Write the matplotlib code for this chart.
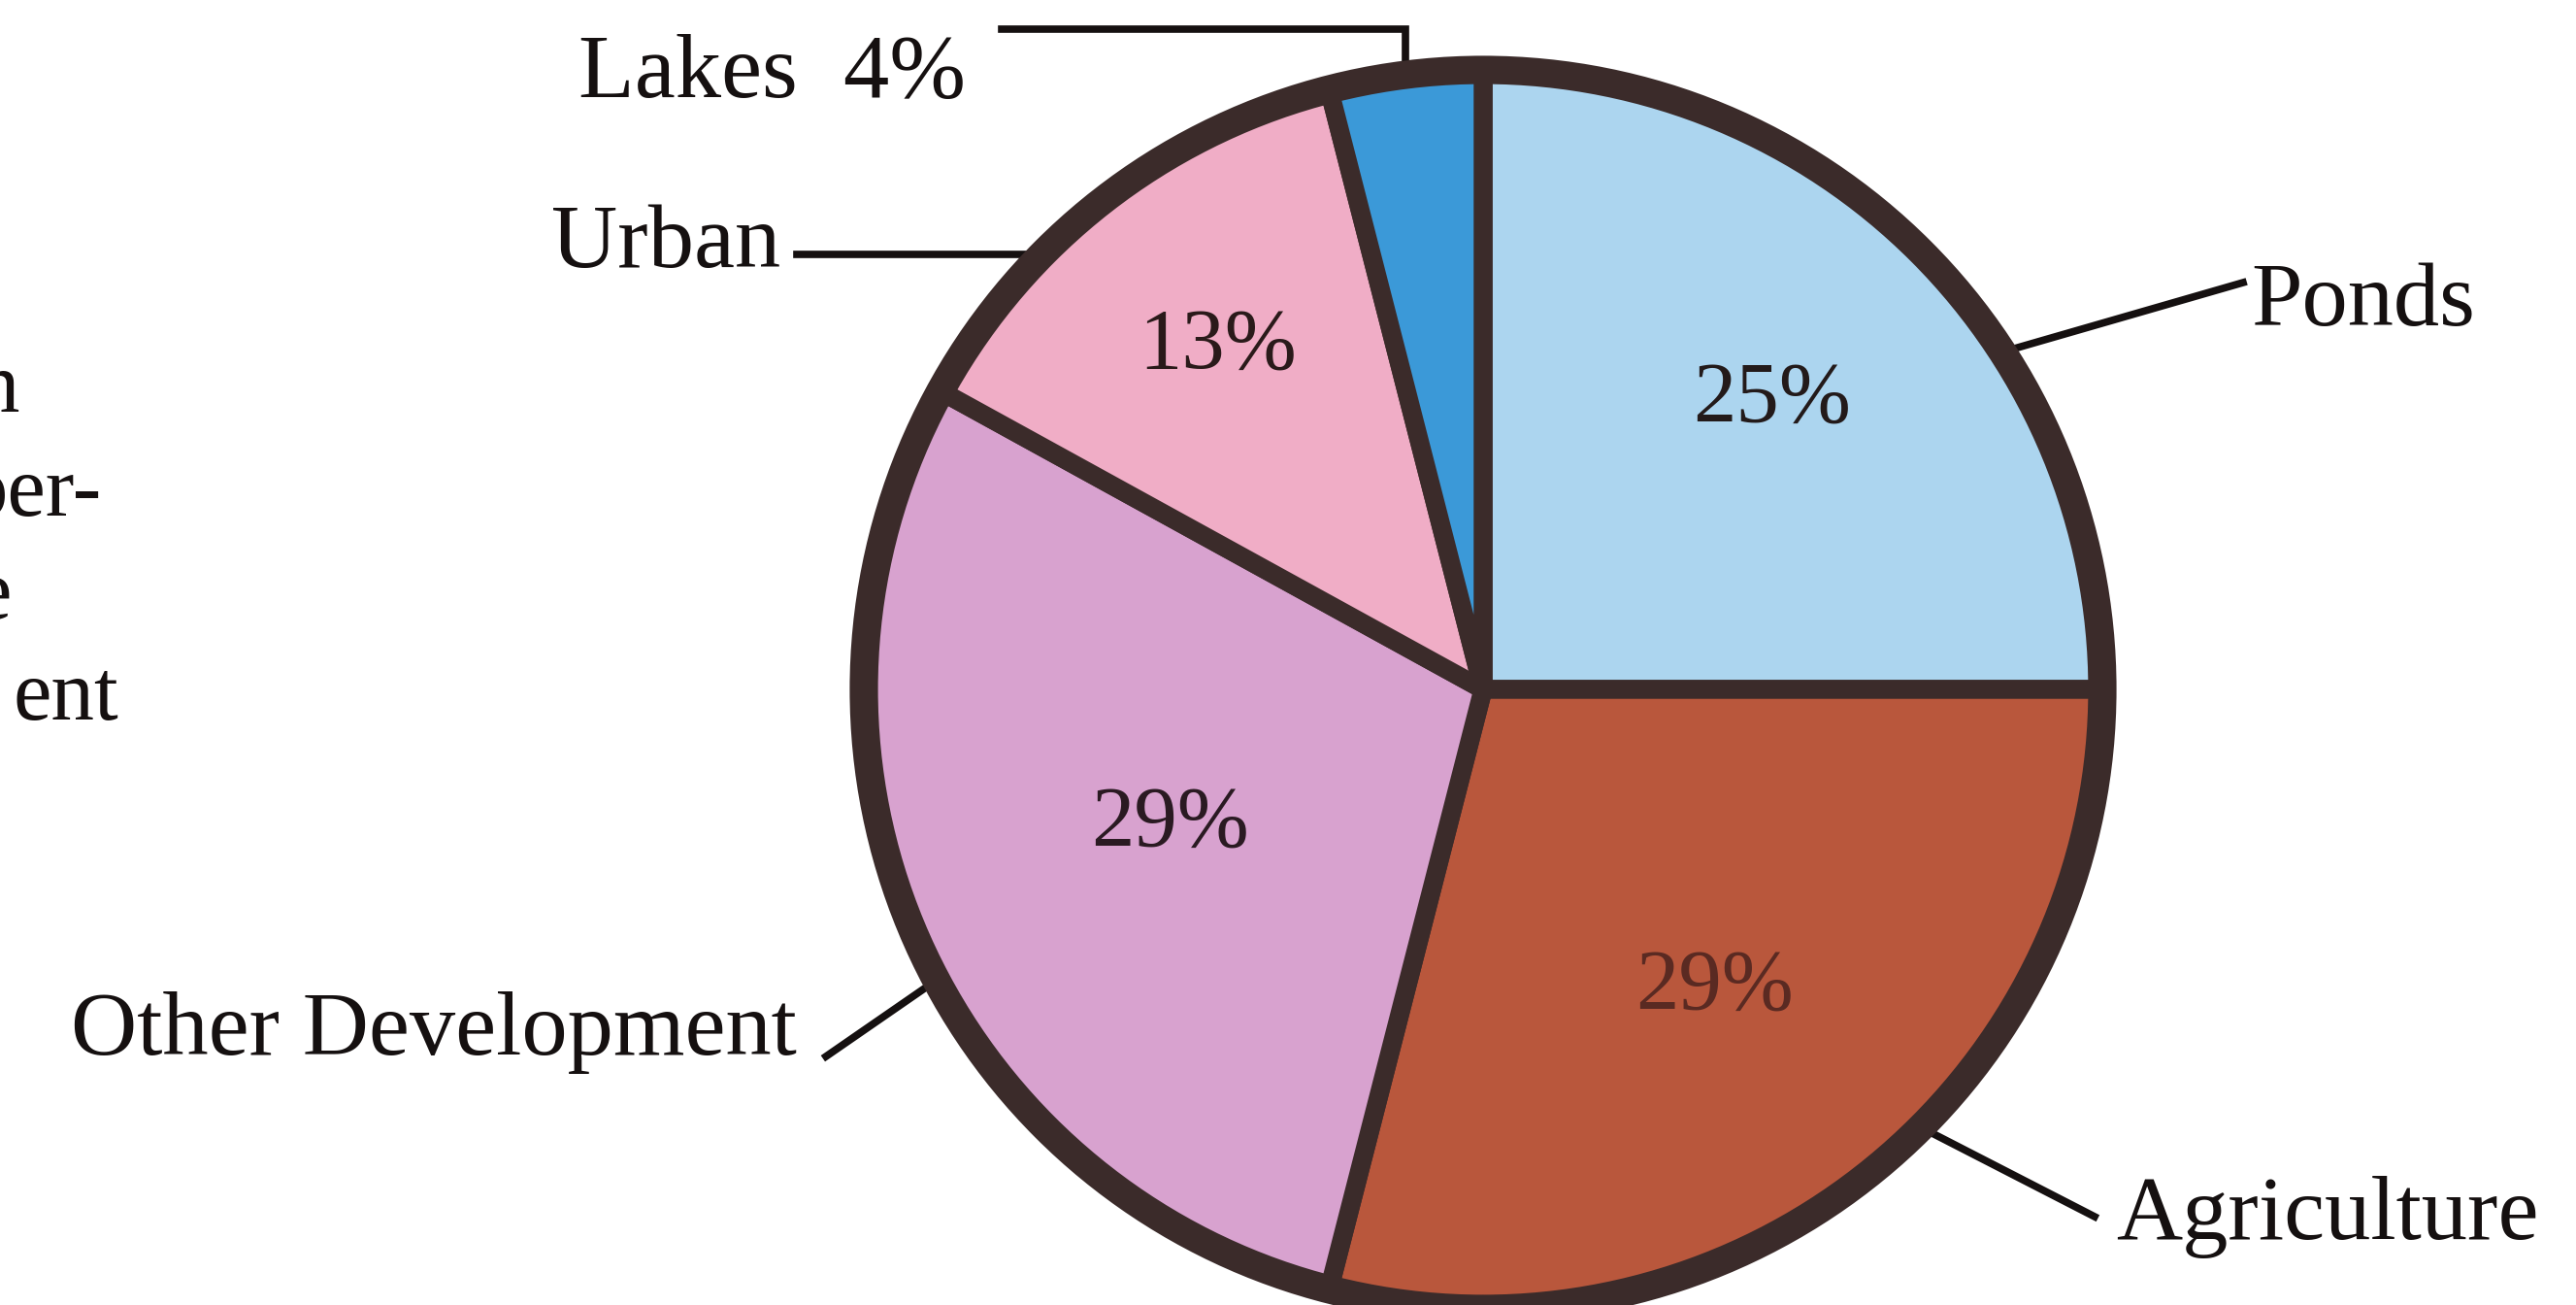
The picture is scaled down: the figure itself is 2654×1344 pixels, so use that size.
import numpy as np
import matplotlib
matplotlib.use("Agg")
import matplotlib.pyplot as plt
from matplotlib.patches import Circle

# wetland loss by cause, percent (clockwise from 12 o'clock)
categories = ['Ponds', 'Agriculture', 'Other Development', 'Urban', 'Lakes']
shares = [25, 29, 29, 13, 4]
colors = ['#acd5ef', '#b9573c', '#d8a2cf', '#f0adc6', '#3b99d8']

W, H = 2654, 1344
cx, cy, R = 1528, 710, 638
EDGE = '#3b2b2a'
INK = '#151010'

plt.rcParams['font.family'] = ['Liberation Serif', 'DejaVu Serif']

fig = plt.figure(figsize=(W / 100, H / 100), dpi=100)
ax = fig.add_axes([0, 0, 1, 1])

wedges, _ = ax.pie(shares, colors=colors, startangle=90, counterclock=False,
                   center=(cx, H - cy), radius=R,
                   wedgeprops=dict(edgecolor=EDGE, linewidth=14, joinstyle='round'))
ax.add_patch(Circle((cx, H - cy), R, fill=False, edgecolor=EDGE, lw=21, zorder=3))

ax.set_xlim(0, W)
ax.set_ylim(0, H)
ax.set_aspect('equal')
ax.axis('off')

# percent labels inside the slices
pct_r = [0.66, 0.61, 0.55, 0.70, None]
pct_col = ['#231a1a', '#5a2a22', '#2a1a22', '#2a1a1a', None]
for w, s, r, c in zip(wedges, shares, pct_r, pct_col):
    if r is None:
        continue
    mid = np.deg2rad((w.theta1 + w.theta2) / 2)
    ax.text(cx + r * R * np.cos(mid), H - cy + r * R * np.sin(mid), f'{s}%',
            ha='center', va='center', fontsize=64, color=c)


def rim(angle):
    a = np.deg2rad(angle)
    return cx + R * np.cos(a), H - cy + R * np.sin(a)


lw_lead = 5.5
# Lakes (elbow leader)
rx, ry = rim(97.2)
ax.plot([1032, rx, rx], [H - 30, H - 30, ry], color=INK, lw=lw_lead,
        solid_joinstyle='miter')
ax.text(995, H - 78, 'Lakes  4%', ha='right', va='center', fontsize=68, color=INK)

# Urban (horizontal leader)
ang_u = 180 - np.rad2deg(np.arcsin((cy - 262) / R))
rx, ry = rim(ang_u)
ax.plot([821, rx], [H - 262, ry], color=INK, lw=lw_lead)
ax.text(804, H - 252, 'Urban', ha='right', va='center', fontsize=68, color=INK)

# Ponds
rx, ry = rim(33)
ax.plot([2311, rx], [H - 291, ry], color=INK, lw=lw_lead)
ax.text(2319, H - 313, 'Ponds', ha='left', va='center', fontsize=68, color=INK)

# Other Development
rx, ry = rim(208)
ax.plot([851, rx], [H - 1088, ry], color=INK, lw=lw_lead)
ax.text(821, H - 1063, 'Other Development', ha='right', va='center', fontsize=68,
        color=INK)

# Agriculture
rx, ry = rim(-45)
ax.plot([2158, rx], [H - 1253, ry], color=INK, lw=lw_lead)
ax.text(2180, H - 1253, 'Agriculture', ha='left', va='center', fontsize=68, color=INK)

# cut-off text from the neighbouring column of the page
for frag, x, y in [('n', 20, 403), ('per-', 105, 510), ('e', 12, 616), ('ent', 122, 720)]:
    ax.text(x, H - y, frag, ha='right', va='center', fontsize=64, color=INK)

fig.savefig('out.png', dpi=100, facecolor='white')
